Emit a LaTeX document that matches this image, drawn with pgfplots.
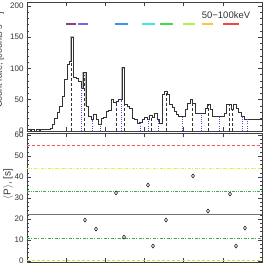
\documentclass[border=0pt]{standalone}
\usepackage{fontspec}
\setmainfont{Liberation Sans}
\usepackage{pgfplots}
\pgfplotsset{compat=1.18}
\definecolor{cmauve}{HTML}{904070}
\definecolor{cviolet}{HTML}{8060E8}
\definecolor{cblue}{HTML}{4090F0}
\definecolor{ccyan}{HTML}{40E8E0}
\definecolor{cgreen}{HTML}{40E040}
\definecolor{cyg}{HTML}{B8F040}
\definecolor{cyo}{HTML}{F8C840}
\definecolor{cred}{HTML}{F04848}
\definecolor{ldot}{HTML}{5050F0}
\definecolor{hred}{HTML}{F85858}
\definecolor{hyel}{HTML}{E4EC46}
\definecolor{hgrn}{HTML}{48A848}
\definecolor{hgrn2}{HTML}{44A844}
\definecolor{hyel2}{HTML}{D2E03C}
\begin{document}
\begin{tikzpicture}
\pgfplotsset{
  panel/.style={
    scale only axis, width=235pt, anchor=south west,
    xmin=0, xmax=235,
    xtick={0,39.1667,78.3333,117.5,156.6667,195.8333,235},
    xticklabels={},
    minor x tick num=4, minor y tick num=4,
    tick align=inside,
    major tick length=4pt, minor tick length=2pt,
    every tick/.style={black!75, line width=0.4pt},
    axis line style={black!75, line width=0.6pt},
    ticklabel style={font=\fontsize{8}{9}\selectfont, text=black!80},
    /pgf/number format/assume math mode=true,
  }
}
% ---------------- top panel ----------------
\begin{axis}[panel, at={(27pt,135pt)}, height=129pt,
  ymin=0, ymax=206, ytick={0,50,100,150,200}]
% halo on peaks
\addplot[gray!55, line width=1.6pt] coordinates {(44,111) (44,150) (46.5,150) (46.5,86)};
\addplot[gray!55, line width=1.6pt] coordinates {(56,68) (56,93) (59,93) (59,40)};
\addplot[gray!55, line width=1.6pt] coordinates {(95,50) (95,101) (97.5,101) (97.5,42)};
% histogram
\addplot[const plot, black!80, line width=0.6pt] coordinates {
(0,3) (3,0) (4.5,3) (7.5,0) (9,3) (12,0) (13.5,3) (16,2)
(23,5) (25,10) (27.5,20) (30,30) (32.5,39) (35,55) (37.5,83) (40,106)
(42.5,111) (44,150) (46.5,86) (49,84) (51.5,80) (54,68) (56,93) (59,40)
(61.5,24) (64,18) (66.5,26) (69,18) (71.5,10) (74,20) (76.5,22) (79,31)
(81.5,33) (84,50) (86.5,46) (89,47) (91.5,50) (95,101) (97.5,42) (100,39)
(102.5,36) (105,21) (107.5,19) (110,12) (112.5,14) (115,18) (117.5,22)
(120,19) (122.5,25) (125,22) (127.5,29) (130,18) (132.5,12) (135,58)
(137.5,63) (140,58) (142.5,42) (145,38) (147,31) (149,27) (151.5,23)
(158,34) (160.5,44) (163,50) (165.5,44) (168,28) (178,36) (180.5,42)
(183,34) (185,23) (197,28) (199,42) (204,34) (206,42) (209,37)
(211.5,30) (214,23) (217,19) (235,19)};
% black dashed markers
\addplot[ycomb, black!80, line width=0.5pt, dash pattern=on 3pt off 2pt] coordinates {
(44.5,108) (57.5,90) (89,47) (97,95) (124.5,25) (139,63) (165,44)
(181.5,42) (202.3,42) (205.5,34)};
% blue dotted markers
\addplot[ycomb, ldot, line width=0.5pt, dash pattern=on 1pt off 1.2pt] coordinates {
(54.5,68) (65.5,18) (73.5,10) (94.7,50) (113,14) (121.5,19) (131.3,18)
(155,23) (174,28) (192.5,23) (215,23) (220,19)};
% coloured bars
\addplot[cmauve, line width=1.5pt] coordinates {(39,171) (49,171)};
\addplot[cviolet, line width=1.5pt] coordinates {(51,171) (61,171)};
\addplot[cblue, line width=1.5pt] coordinates {(88,171) (101,171)};
\addplot[ccyan, line width=1.5pt] coordinates {(115,171) (127.7,171)};
\addplot[cgreen, line width=1.5pt] coordinates {(133.3,171) (146,171)};
\addplot[cyg, line width=1.5pt] coordinates {(156,171) (167.7,171)};
\addplot[cyo, line width=1.5pt] coordinates {(175,171) (186,171)};
\addplot[cred, line width=1.5pt] coordinates {(196,171) (212,171)};
\node[font=\fontsize{9.5}{11}\selectfont, text=black!80] at (axis cs:199,185.6) {50−100keV};
\end{axis}
% ---------------- bottom panel ----------------
\begin{axis}[panel, at={(27pt,4pt)}, height=129pt,
  ymin=-0.5, ymax=61, ytick={0,10,20,30,40,50,60}]
\addplot[draw=hred, line width=0.7pt, dash pattern=on 3pt off 2pt] coordinates {(0,55) (235,55)};
\addplot[draw=hyel, line width=0.7pt, dash pattern=on 3pt off 1.5pt on 1pt off 1.5pt] coordinates {(0,44) (235,44)};
\addplot[draw=hgrn, line width=0.7pt, dash pattern=on 3pt off 1.2pt on 0.8pt off 1.2pt on 0.8pt off 1.2pt] coordinates {(0,33) (235,33)};
\addplot[draw=black!55, line width=0.8pt] coordinates {(0,22) (235,22)};
\addplot[draw=hgrn2, line width=0.7pt, dash pattern=on 3pt off 1.5pt on 1pt off 1.5pt] coordinates {(0,11) (235,11)};
\addplot[draw=hyel2, line width=0.8pt, dash pattern=on 3pt off 2pt] coordinates {(0,0.3) (235,0.3)};
\addplot[only marks, mark=diamond, mark size=2pt, black!85, mark options={line width=0.6pt}] coordinates {
(58,19.5) (69,15.2) (89,32.4) (97,11.4) (121,36.2) (126,7.1) (139,19.5)
(166,40.5) (181,23.8) (203,31.9) (209,7.1) (218,15.7)};
\end{axis}
% axis labels
\node[rotate=90, font=\fontsize{10}{11}\selectfont, text=black!80] at (8pt,82pt) {$\langle$P$\rangle$, [s]};
\node[rotate=90, anchor=base, inner sep=0pt, font=\fontsize{9}{10}\selectfont, text=black!80] at (2pt,206pt) {Count rate, [counts s$^{-1}$]};
\pgfresetboundingbox
\useasboundingbox (0,0) rectangle (266pt,266pt);
\end{tikzpicture}
\end{document}
